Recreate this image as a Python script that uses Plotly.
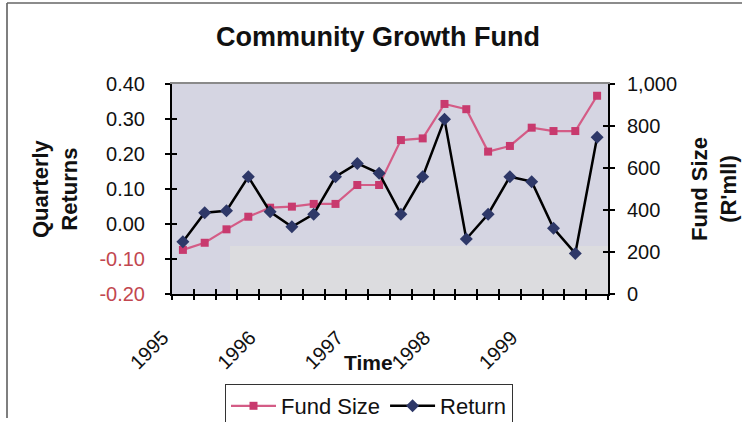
import plotly.graph_objects as go

# ---------------- data ----------------
quarters = [f"{y} Q{q}" for y in range(1995, 2000) for q in range(1, 5)]
fund_size = [210, 244, 308, 368, 411, 416, 429, 429, 519, 519,
             733, 741, 905, 880, 678, 705, 792, 776, 776, 944]
returns = [-0.051, 0.032, 0.038, 0.135, 0.035, -0.008, 0.028, 0.135, 0.173, 0.145,
           0.028, 0.135, 0.299, -0.043, 0.028, 0.135, 0.121, -0.012, -0.084, 0.248]
year_ticks = ["1995 Q1", "1996 Q1", "1997 Q1", "1998 Q1", "1999 Q1"]
year_labels = ["1995", "1996", "1997", "1998", "1999"]
ret_ticks = [-0.2, -0.1, 0.0, 0.1, 0.2, 0.3, 0.4]
size_ticks = [0, 200, 400, 600, 800, 1000]

FONT = "Arial, 'Liberation Sans', sans-serif"
NEG = "#C2474F"

ret_text = [(f'<span style="color:{NEG}">{v:.2f}</span>' if v < 0 else f"{v:.2f}") for v in ret_ticks]

n = len(quarters)
xr = [-0.5, n - 0.5]
boundaries = [i - 0.5 for i in range(n + 1)]

fig = go.Figure()
fig.add_trace(go.Scatter(
    x=quarters, y=fund_size, name="Fund Size", mode="lines+markers",
    line=dict(color="#D45C86", width=2.2),
    marker=dict(symbol="square", size=8, color="#C83A6E"),
    xaxis="x", yaxis="y"))
fig.add_trace(go.Scatter(
    x=quarters, y=returns, name="Return", mode="lines+markers",
    line=dict(color="#000000", width=2.5),
    marker=dict(symbol="diamond", size=10, color="#2E3868"),
    xaxis="x", yaxis="y2"))

# empty helper traces so that the tick-only overlay axes get drawn
for xa, ya in [("x2", "y3"), ("x3", "y4"), ("x4", "y2")]:
    fig.add_trace(go.Scatter(x=[None], y=[None], xaxis=xa, yaxis=ya, mode="markers",
                             showlegend=False, hoverinfo="skip"))

tickfont = dict(family=FONT, size=20, color="#111111")
common = dict(showgrid=False, zeroline=False, automargin=False)

W, H = 742, 422
L, R, T, B = 172, 134, 84, 128
PW, PH = W - L - R, H - T - B


def px(xp):
    return (xp - L) / PW


def py(yp):
    return (H - B - yp) / PH


fig.update_layout(
    width=W, height=H,
    margin=dict(l=L, r=R, t=T, b=B),
    paper_bgcolor="white",
    plot_bgcolor="#D5D5E2",
    font=dict(family=FONT, color="#111111"),
    title=dict(text="<b>Community Growth Fund</b>", font=dict(size=27, family=FONT, color="#111111"),
               x=378 / W, xanchor="center", y=1 - 37 / H, yanchor="middle"),
    showlegend=True,
    legend=dict(orientation="h", xref="container", yref="container",
                x=225 / W, y=1 - 384 / H, xanchor="left", yanchor="top",
                bgcolor="white", bordercolor="#333333", borderwidth=1, itemwidth=45,
                font=dict(size=22, family=FONT, color="#111111")),
    xaxis=dict(type="category", categoryorder="array", categoryarray=quarters,
               range=xr, tickmode="array", tickvals=year_ticks, ticktext=year_labels,
               tickangle=-45, ticks="", showline=True, linecolor="#000000", linewidth=2,
               tickfont=tickfont, ticklabelstandoff=22, ticklabelshift=-20,
               anchor="y", **common),
    xaxis2=dict(overlaying="x", anchor="y", side="bottom", range=xr,
                tickmode="array", tickvals=boundaries, ticks="outside", ticklen=5,
                tickwidth=1.5, tickcolor="#000000", showticklabels=False,
                showline=False, **common),
    xaxis3=dict(overlaying="x", anchor="y", side="bottom", range=xr,
                tickmode="array", tickvals=boundaries, ticks="inside", ticklen=5,
                tickwidth=1.5, tickcolor="#000000", showticklabels=False,
                showline=False, **common),
    xaxis4=dict(overlaying="x", anchor="y", side="top", range=xr,
                showticklabels=False, ticks="", showline=True,
                linecolor="#8A8A8A", linewidth=1.5, **common),
    yaxis=dict(side="right", range=[0, 1000], tickmode="array", tickvals=size_ticks,
               tickformat=",d", ticks="outside", ticklen=5, tickwidth=1.5,
               tickcolor="#000000", showline=True, linecolor="#000000", linewidth=2,
               tickfont=tickfont, ticklabelstandoff=8, anchor="x", **common),
    yaxis2=dict(overlaying="y", side="left", range=[-0.2, 0.4], tickmode="array",
                tickvals=ret_ticks, ticktext=ret_text, ticks="outside", ticklen=5,
                tickwidth=1.5, tickcolor="#000000", showline=True,
                linecolor="#000000", linewidth=2,
                tickfont=tickfont, ticklabelstandoff=16, anchor="x", **common),
    yaxis3=dict(overlaying="y", side="left", range=[-0.2, 0.4], tickmode="array",
                tickvals=ret_ticks, ticks="inside", ticklen=5, tickwidth=1.5,
                tickcolor="#000000", showticklabels=False, showline=False,
                anchor="x", **common),
    yaxis4=dict(overlaying="y", side="right", range=[0, 1000], tickmode="array",
                tickvals=size_ticks, ticks="inside", ticklen=5, tickwidth=1.5,
                tickcolor="#000000", showticklabels=False, showline=False,
                anchor="x", **common),
    annotations=[
        dict(text="<b>Quarterly<br>Returns</b>", xref="paper", yref="paper",
             x=px(55), y=0.5, xanchor="center", yanchor="middle",
             textangle=-90, showarrow=False,
             font=dict(size=22, family=FONT, color="#111111")),
        dict(text="<b>Fund Size<br>(R'mll)</b>", xref="paper", yref="paper",
             x=px(714), y=0.5, xanchor="center", yanchor="middle",
             textangle=-90, showarrow=False,
             font=dict(size=22, family=FONT, color="#111111")),
        dict(text="<b>Time</b>", xref="paper", yref="paper",
             x=px(368), y=py(362), xanchor="center", yanchor="middle",
             showarrow=False, font=dict(size=21, family=FONT, color="#111111")),
    ],
    shapes=[
        # lighter band in the lower part of the plot area (as in the scanned original)
        dict(type="rect", xref="paper", yref="paper", x0=px(230), x1=1,
             y0=0, y1=py(246), fillcolor="#DCDCDF", line=dict(width=0), layer="below"),
        # outer chart frame (left and top edges)
        dict(type="line", xref="paper", yref="paper", x0=px(7), x1=px(7),
             y0=py(418), y1=py(3), line=dict(color="#555555", width=1.5)),
        dict(type="line", xref="paper", yref="paper", x0=px(7), x1=px(742),
             y0=py(3), y1=py(3), line=dict(color="#666666", width=1.5)),
    ],
)

fig.write_html("out.html")
